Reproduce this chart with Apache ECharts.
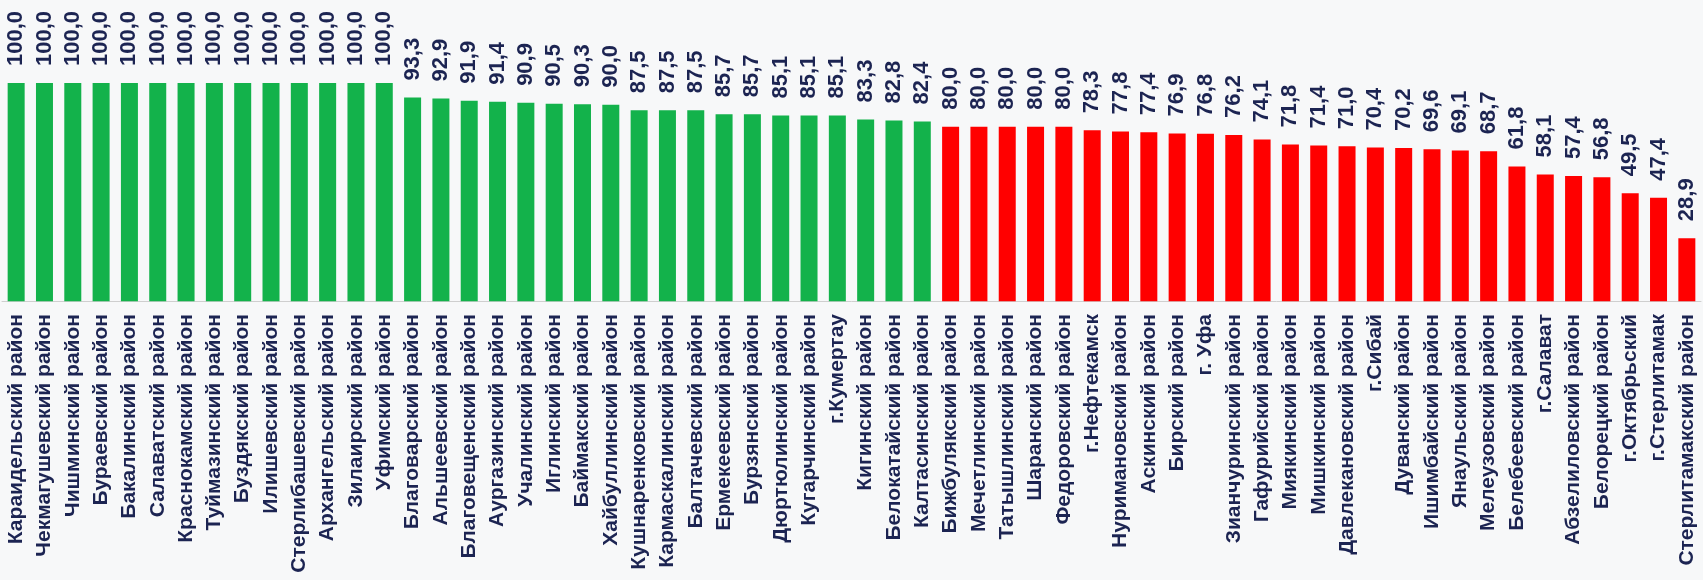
<!DOCTYPE html>
<html><head><meta charset="utf-8">
<script src="https://cdn.jsdelivr.net/npm/echarts@6/dist/echarts.min.js"></script>
<style>html,body{margin:0;padding:0;background:#f7f8f9;}#c{width:1703px;height:580px;}</style>
</head><body><div id="c"></div>
<script>
const categories = ["Караидельский район","Чекмагушевский район","Чишминский район","Бураевский район","Бакалинский район","Салаватский район","Краснокамский район","Туймазинский район","Буздякский район","Илишевский район","Стерлибашевский район","Архангельский район","Зилаирский район","Уфимский район","Благоварский район","Альшеевский район","Благовещенский район","Аургазинский район","Учалинский район","Иглинский район","Баймакский район","Хайбуллинский район","Кушнаренковский район","Кармаскалинский район","Балтачевский район","Ермекеевский район","Бурзянский район","Дюртюлинский район","Кугарчинский район","г.Кумертау","Кигинский район","Белокатайский район","Калтасинский район","Бижбулякский район","Мечетлинский район","Татышлинский район","Шаранский район","Федоровский район","г.Нефтекамск","Нуримановский район","Аскинский район","Бирский район","г. Уфа","Зианчуринский район","Гафурийский район","Миякинский район","Мишкинский район","Давлекановский район","г.Сибай","Дуванский район","Ишимбайский район","Янаульский район","Мелеузовский район","Белебеевский район","г.Салават","Абзелиловский район","Белорецкий район","г.Октябрьский","г.Стерлитамак","Стерлитамакский район"];
const values = [100,100,100,100,100,100,100,100,100,100,100,100,100,100,93.3,92.9,91.9,91.4,90.9,90.5,90.3,90.0,87.5,87.5,87.5,85.7,85.7,85.1,85.1,85.1,83.3,82.8,82.4,80.0,80.0,80.0,80.0,80.0,78.3,77.8,77.4,76.9,76.8,76.2,74.1,71.8,71.4,71.0,70.4,70.2,69.6,69.1,68.7,61.8,58.1,57.4,56.8,49.5,47.4,28.9];
const threshold = 80;

const chart = echarts.init(document.getElementById('c'));
const textColor = '#1c2452';
chart.setOption({
  backgroundColor: '#f7f8f9',
  animation: false,
  grid: {left: 2, right: 2, top: 83, bottom: 270, containLabel: false},
  xAxis: {
    type: 'category', data: categories,
    axisLine: {show: true, lineStyle: {color: '#cfcfcf', width: 1}},
    axisTick: {show: false},
    axisLabel: {rotate: 90, interval: 0, margin: 4, color: textColor, fontSize: 21, fontWeight: 'bold', fontFamily: 'Liberation Sans, Arial, sans-serif'}
  },
  yAxis: {type: 'value', min: -4, max: 100, show: false, splitLine: {show: false}},
  series: [{
    type: 'bar', data: values, barWidth: 17,
    itemStyle: {color: p => p.value > threshold ? '#13b24b' : '#ff0000'},
    label: {
      show: true, position: 'top', rotate: 90, align: 'left', verticalAlign: 'middle', distance: 17,
      color: textColor, fontSize: 22, fontWeight: 'bold', fontFamily: 'Liberation Sans, Arial, sans-serif',
      formatter: p => p.value.toFixed(1).replace('.', ',')
    }
  }]
});
</script></body></html>
